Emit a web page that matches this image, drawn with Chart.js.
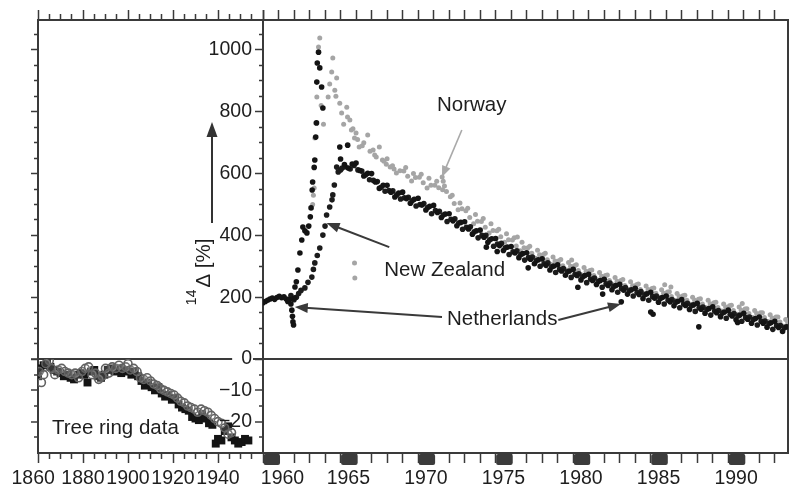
<!DOCTYPE html>
<html>
<head>
<meta charset="utf-8">
<script src="https://cdn.jsdelivr.net/npm/chart.js@4.4.1/dist/chart.umd.min.js"></script>
<style>
  html, body { margin: 0; padding: 0; background: #fff; }
  #wrap { position: relative; width: 792px; height: 491px; }
  canvas { position: absolute; left: 0; top: 0; }
</style>
</head>
<body>
<div id="wrap">
  <canvas id="left" width="792" height="491"></canvas>
  <canvas id="right" width="792" height="491"></canvas>
</div>
<script>
// ---- tree ring data (left panel, 14C delta in per mil) ----
const treeSqYears = [1860,1861,1862.5,1864,1865.5,1867,1868.5,1870,1871.5,1873,1874.5,1876,1877.5,1879,1880.5,1882,1883.5,1885,1886.5,1888,
  1889.5,1891,1892.5,1894,1895.5,1897,1898.5,1900,1901.5,1903,1904.5,1906,1907.5,1909,1910.5,1912,1913.5,1915,1916.5,1918,
  1919.5,1921,1922.5,1924,1925.5,1927,1928.5,1930,1931.5,1933,1934.5,1936,1937.5,1939,1940,1941.5,1943,1944.5,1946,1947.5,
  1949,1950.5,1952,1953.5];
const treeSqValues = [-5.5,-3,-2,-1,-2.5,-3.5,-4,-4.5,-5.5,-5,-6,-6.5,-5,-4.5,-5,-7.5,-4,-3.5,-5.5,-6,
  -5,-3.5,-3,-4,-3,-4.5,-3.5,-4,-5,-4,-5.5,-7,-8.5,-7.5,-9,-10,-9,-11,-12,-11.5,
  -13,-12.5,-14.5,-15.5,-16,-16.5,-18.5,-19,-19.5,-17.5,-19,-20.5,-21,-27,-25.5,-26,-23,-21.5,-25,-26,
  -27,-26.5,-25.5,-26];
const treeCircYears = [1860.5,1861.5,1862.5,1863.5,1865,1866,1867.5,1869,1870.5,1872,1873.5,1875,1876.5,1878,1879.5,1881,1882.5,1884,1885.5,1887,
  1888.5,1890,1891.5,1893,1894.5,1896,1897.5,1899,1900,1901,1902.5,1904,1905.5,1907,1908.5,1910,1911.5,1913,1914.5,1916,
  1917.5,1919,1920.5,1922,1923.5,1925,1926.5,1928,1929.5,1931,1932.5,1934,1935.5,1937,1938.5,1940,1941.5,1943,1944.5,1946];
const treeCircValues = [-4,-7.5,-5,-1.5,-0.5,-3,-5,-3.5,-3,-4,-4.5,-5,-4.5,-6,-4,-3,-2.5,-5,-4.5,-6.5,
  -5.5,-3,-4.5,-2.5,-3,-2,-3,-2.5,-1.5,-3.5,-3,-4,-6,-6.5,-6,-7,-8,-8.5,-9.5,-10,
  -10.5,-11,-11.5,-12.5,-13.5,-14,-15,-15.5,-16,-17,-16,-16.5,-17,-18,-19,-20,-20.5,-22,-24,-23.5];

// ---- Netherlands (black) ----
const nlEarlyYears = [1960.0,1960.15,1960.3,1960.45,1960.6,1960.75,1960.9,1961.05,1961.2,1961.35,1961.5,1961.6,1961.7,1961.8,1961.86,1961.9,1961.93,1961.97,
  1962.02,1962.06,1962.15,1962.25,1962.38,1962.5,1962.57,1962.7,1962.83,1962.95,1963.05,1963.1,1963.17,1963.2,1963.3,1963.34,1963.4,1963.45,1963.47,1963.5,
  1963.58,1963.66,1963.78,1963.86,1964.95,1965.46];
const nlEarlyValues = [182,186,190,194,197,193,199,203,198,201,194,186,192,178,158,138,120,110,
  197,233,250,288,343,385,427,415,408,430,460,489,547,573,620,644,718,764,896,958,
  993,942,880,812,686,692];
const nlBandYears = [
  1965,1965.25,1965.5,1965.75, 1966,1966.25,1966.5,1966.75, 1967,1967.25,1967.5,1967.75, 1968,1968.25,1968.5,1968.75,
  1969,1969.25,1969.5,1969.75, 1970,1970.25,1970.5,1970.75, 1971,1971.25,1971.5,1971.75, 1972,1972.25,1972.5,1972.75,
  1973,1973.25,1973.5,1973.75, 1974,1974.25,1974.5,1974.75, 1975,1975.25,1975.5,1975.75, 1976,1976.25,1976.5,1976.75,
  1977,1977.25,1977.5,1977.75, 1978,1978.25,1978.5,1978.75, 1979,1979.25,1979.5,1979.75, 1980,1980.25,1980.5,1980.75,
  1981,1981.25,1981.5,1981.75, 1982,1982.25,1982.5,1982.75, 1983,1983.25,1983.5,1983.75, 1984,1984.25,1984.5,1984.75,
  1985,1985.25,1985.5,1985.75, 1986,1986.25,1986.5,1986.75, 1987,1987.25,1987.5,1987.75, 1988,1988.25,1988.5,1988.75,
  1989,1989.25,1989.5,1989.75, 1990,1990.25,1990.5,1990.75, 1991,1991.25,1991.5,1991.75, 1992,1992.25,1992.5,1992.75,
  1993,1993.25,1993.5,1993.75,
  1974.4,1975.1,1977.1,1980.3,1981.9,1983.1,1985.0,1985.15,1988.1,1990.6];
const nlBandValues = [
  647,629,618,631, 634,610,592,601, 600,573,552,562, 562,540,524,537,
  540,519,504,517, 520,498,482,494, 497,474,458,469, 470,447,431,442,
  444,421,404,415, 417,394,378,389, 390,367,351,362, 364,343,328,341,
  344,323,308,321, 324,303,288,301, 305,285,271,285, 290,270,256,270,
  274,254,241,254, 258,238,224,238, 242,223,210,224, 229,209,196,211,
  216,197,184,199, 204,185,172,187, 192,173,160,175, 180,161,148,163,
  169,150,137,152, 158,139,127,142, 148,129,116,131, 136,116,103,117,
  122,102,89,104,
  362,348,295,232,210,185,152,145,104,118];

// ---- New Zealand (black) ----
const nzYears = [1961.8,1962.0,1962.15,1962.3,1962.45,1962.7,1962.9,1963.15,1963.25,1963.34,1963.5,1963.66,1963.86,1964.0,1964.1,1964.3,
  1964.45,1964.5,1964.6,1964.75,1964.85,1965.0,1965.1,1965.3,
  1965.62,1966.12,1966.62,1967.12,1967.62,1968.12,1968.62,1969.12,1969.62,1970.12,1970.62,1971.12,1971.62,1972.12,1972.62,
  1973.12,1973.62,1974.12,1974.62,1975.12,1975.62,1976.12,1976.62,1977.12,1977.62,1978.12,1978.62,1979.12,1979.62,1980.12,1980.62,
  1981.12,1981.62,1982.12,1982.62,1983.12,1983.62,1984.12,1984.62,1985.12,1985.62,1986.12,1986.62,1987.12,1987.62,1988.12,1988.62,
  1989.12,1989.62,1990.12,1990.62,1991.12,1991.62,1992.12,1992.62,1993.12,1993.62];
const nzValues = [205,192,200,212,222,230,248,265,290,311,335,359,401,430,466,492,
  515,531,563,621,605,612,618,622,
  615,612,596,578,556,545,531,522,512,500,490,480,466,452,440,
  426,412,400,386,372,360,347,338,328,318,308,298,290,282,274,266,
  259,251,243,235,228,221,215,208,202,196,190,184,178,172,166,160,
  155,149,144,139,134,128,122,115,108,101];
const nzLateYears = [1965.87,
  1966.37,1966.87,1967.37,1967.87,1968.37,1968.87,1969.37,1969.87,1970.37,1970.87,1971.37,1971.87,1972.37,1972.87,
  1973.37,1973.87,1974.37,1974.87,1975.37,1975.87,1976.37,1976.87,1977.37,1977.87,1978.37,1978.87,1979.37,1979.87,
  1980.37,1980.87,1981.37,1981.87,1982.37,1982.87,1983.37,1983.87,1984.37,1984.87,1985.37,1985.87,1986.37,1986.87,
  1987.37,1987.87,1988.37,1988.87,1989.37,1989.87,1990.37,1990.87,1991.37,1991.87,1992.37,1992.87,1993.37];
const nzLateValues = [626,
  608,580,574,543,544,518,523,495,503,470,478,445,454,420,
  428,392,400,365,374,338,350,320,330,300,311,280,293,264,
  276,247,262,232,246,216,231,204,218,190,204,178,192,166,
  180,154,168,142,157,132,147,122,136,110,123,96,108];

// ---- Norway (grey) ----
const noEarlyYears = [1963.2,1963.25,1963.3,1963.34,1963.4,1963.47,1963.58,1963.66,1963.75,1963.9,1964.2,1964.43,1964.5,1964.63,1964.75,1964.95,
  1965.07,1965.4,1965.45,1965.6,1965.7,1965.9,1966.0,1966.2,1966.5,1966.75,1967.1,1967.3,1967.5,1967.7,1967.95,1968.2,1968.45,1968.6,
  1965.9,1965.92,
  1964.3,1964.7,1965.2,1965.8,1966.1,1966.4,1966.9,1967.2,1967.8,1968.0,1968.35];
const noEarlyValues = [500,530,553,715,764,848,1010,1039,820,760,848,929,974,870,909,828,
  796,815,783,773,741,715,731,686,700,725,676,654,686,644,630,621,615,602,
  311,262,
  890,850,760,745,710,690,672,660,640,648,625];
const noBandYears = [1968.83,
  1969.08,1969.33,1969.58,1969.83, 1970.08,1970.33,1970.58,1970.83, 1971.08,1971.33,1971.58,1971.83, 1972.08,1972.33,1972.58,1972.83,
  1973.08,1973.33,1973.58,1973.83, 1974.08,1974.33,1974.58,1974.83, 1975.08,1975.33,1975.58,1975.83, 1976.08,1976.33,1976.58,1976.83,
  1977.08,1977.33,1977.58,1977.83, 1978.08,1978.33,1978.58,1978.83, 1979.08,1979.33,1979.58,1979.83, 1980.08,1980.33,1980.58,1980.83,
  1981.08,1981.33,1981.58,1981.83, 1982.08,1982.33,1982.58,1982.83, 1983.08,1983.33,1983.58,1983.83, 1984.08,1984.33,1984.58,1984.83,
  1985.08,1985.33,1985.58,1985.83, 1986.08,1986.33,1986.58,1986.83, 1987.08,1987.33,1987.58,1987.83, 1988.08,1988.33,1988.58,1988.83,
  1989.08,1989.33,1989.58,1989.83, 1990.08,1990.33,1990.58,1990.83, 1991.08,1991.33,1991.58,1991.83, 1992.08,1992.33,1992.58,1992.83,
  1993.08,1993.33,1993.58,1993.83,
  1971.55,1971.62,1976.4,1979.9,1985.9,1986.3,1990.9];
const noBandValues = [609,
  608,591,576,587, 588,570,553,562, 562,554,548,542, 525,503,483,486,
  480,458,438,446, 445,426,408,416, 415,396,378,386, 385,366,350,360,
  360,342,326,337, 338,321,306,317, 318,302,288,300, 302,286,272,284,
  286,270,256,268, 270,254,240,252, 254,238,225,237, 240,225,212,225,
  228,213,200,213, 217,202,189,202, 205,190,177,190, 193,178,166,179,
  182,167,155,168, 172,157,145,158, 162,147,134,147, 150,134,121,133,
  136,120,106,118,
  589,575,395,320,240,233,180];
const noHighYears = [
  1969.2,1969.7,1970.2,1970.7,1971.2,1971.7,1972.2,1972.7,1973.2,1973.7,1974.2,1974.7,1975.2,1975.7,1976.2,1976.7,
  1977.2,1977.7,1978.2,1978.7,1979.2,1979.7,1980.2,1980.7,1981.2,1981.7,1982.2,1982.7,1983.2,1983.7,1984.2,1984.7,
  1985.2,1985.7,1986.2,1986.7,1987.2,1987.7,1988.2,1988.7,1989.2,1989.7,1990.2,1990.7,1991.2,1991.7,1992.2,1992.7,
  1993.2,1993.7];
const noHighValues = [
  620,600,598,585,575,560,530,505,488,468,455,438,420,405,392,378,
  365,352,342,330,322,312,305,296,288,280,272,264,257,250,243,236,
  230,224,218,212,206,200,195,190,184,178,174,168,163,157,150,143,
  136,128];

// ---- axis ticks and labels ----
const leftYearLabels = [1860, 1880, 1900, 1920, 1940];
const rightYearLabels = [1960, 1965, 1970, 1975, 1980, 1985, 1990];
const upperLabels = [200, 400, 600, 800, 1000];
const lowerLabels = [0, -10, -20];

const FONT = "'Liberation Sans', Arial, Helvetica, sans-serif";
const AXIS = '#3a3a3a';
const INK = '#1e1e1e';
Chart.defaults.font.family = FONT;

function steps(a, b, d) {
  const out = [];
  for (let v = a; v <= b + 1e-6; v += d) out.push(+v.toFixed(3));
  return out;
}
const pts = (xs, ys) => xs.map((x, i) => ({ x: x, y: ys[i] }));
const setTicks = list => s => { s.ticks = list.map(v => ({ value: v })); };
const fixW = w => s => { s.width = w; };
const fixH = h => s => { s.height = h; };
const isVal = (c, f) => c.tick && f(c.tick.value);

const upTicks = steps(0, 1050, 50);
const lowTicks = steps(-25, 0, 5);
const tickFont = { family: FONT, size: 19.5 };

function arrow(ctx, x1, y1, x2, y2, color, width, head, half) {
  const a = Math.atan2(y2 - y1, x2 - x1);
  const c = Math.cos(a), s = Math.sin(a);
  ctx.save();
  ctx.strokeStyle = color;
  ctx.fillStyle = color;
  ctx.lineWidth = width;
  ctx.beginPath();
  ctx.moveTo(x1, y1);
  ctx.lineTo(x2 - c * head * 0.8, y2 - s * head * 0.8);
  ctx.stroke();
  ctx.beginPath();
  ctx.moveTo(x2, y2);
  ctx.lineTo(x2 - c * head - s * half, y2 - s * head + c * half);
  ctx.lineTo(x2 - c * head + s * half, y2 - s * head - c * half);
  ctx.closePath();
  ctx.fill();
  ctx.restore();
}

// ---------------- left panel: tree rings ----------------
const treeLabel = {
  id: 'treeLabel',
  afterDraw(chart) {
    const ctx = chart.ctx;
    ctx.save();
    ctx.font = '20.5px ' + FONT;
    ctx.fillStyle = INK;
    ctx.textBaseline = 'middle';
    ctx.fillText('Tree ring data', chart.scales.x.getPixelForValue(1866.2), chart.scales.yLow.getPixelForValue(-22));
    ctx.restore();
  }
};

new Chart(document.getElementById('left'), {
  type: 'scatter',
  data: {
    datasets: [
      { data: pts(treeCircYears, treeCircValues), yAxisID: 'yLow', pointStyle: 'circle', pointRadius: 4,
        backgroundColor: 'rgba(255,255,255,0.15)', borderColor: '#626262', borderWidth: 1.6 },
      { data: pts(treeSqYears, treeSqValues), yAxisID: 'yLow', pointStyle: 'rect', pointRadius: 5.6,
        backgroundColor: '#141414', borderWidth: 0 }
    ]
  },
  options: {
    responsive: false, animation: false, events: [],
    layout: { padding: { left: 31, right: 529, top: 10, bottom: 0 } },
    plugins: { legend: { display: false }, tooltip: { enabled: false } },
    scales: {
      x: {
        type: 'linear', position: 'bottom', min: 1860, max: 1960,
        afterBuildTicks: setTicks(steps(1860, 1955, 5)), afterFit: fixH(38),
        ticks: { autoSkip: false, maxRotation: 0, padding: 4, color: INK, font: tickFont,
          callback: v => leftYearLabels.includes(v) ? (v === 1860 ? '1860\u2002' : String(v)) : '' },
        grid: { drawOnChartArea: false, tickLength: 10, tickColor: AXIS, tickWidth: 1.5,
          tickBorderDash: c => isVal(c, v => (v - 1860) % 20 === 0) ? [] : [5, 40] },
        border: { color: AXIS, width: 2 }
      },
      xTop: {
        type: 'linear', position: 'top', min: 1860, max: 1960,
        afterBuildTicks: setTicks(steps(1860, 1960, 5)), afterFit: fixH(10),
        ticks: { display: false },
        grid: { drawOnChartArea: false, tickLength: 10, tickColor: AXIS, tickWidth: 1.5,
          tickBorderDash: c => isVal(c, v => (v - 1860) % 20 === 0) ? [] : [0, 4, 5, 40] },
        border: { color: AXIS, width: 2 }
      },
      yLow: {
        type: 'linear', position: 'left', stack: 'y', stackWeight: 94, min: -30, max: 0,
        afterBuildTicks: setTicks(lowTicks), afterFit: fixW(7),
        ticks: { display: false },
        grid: { drawOnChartArea: true, tickLength: 7, tickColor: AXIS, tickWidth: 1.5,
          color: c => isVal(c, v => v === 0) ? AXIS : 'rgba(0,0,0,0)',
          lineWidth: c => isVal(c, v => v === 0) ? 2 : 0,
          tickBorderDash: c => isVal(c, v => v % 10 === 0) ? [] : [0, 3, 3, 40] },
        border: { color: AXIS, width: 2 }
      },
      yUp: {
        type: 'linear', position: 'left', stack: 'y', stackWeight: 339, min: 0, max: 1097,
        afterBuildTicks: setTicks(upTicks), afterFit: fixW(7),
        ticks: { display: false },
        grid: { drawOnChartArea: false, tickLength: 7, tickColor: AXIS, tickWidth: 1.5,
          tickBorderDash: c => isVal(c, v => v % 200 === 0) ? [] : [0, 3, 3, 40] },
        border: { color: AXIS, width: 2 }
      }
    }
  },
  plugins: [treeLabel]
});

// ---------------- right panel: atmospheric 14C ----------------
const decorations = {
  id: 'decorations',
  afterDraw(chart) {
    const ctx = chart.ctx;
    const xs = chart.scales.x, ys = chart.scales.yUp;
    const X = v => xs.getPixelForValue(v), Y = v => ys.getPixelForValue(v);
    const area = chart.chartArea;

    // year blocks under the axis
    ctx.save();
    ctx.fillStyle = '#3b3b3b';
    rightYearLabels.forEach(yr => {
      const x0 = X(yr), x1 = X(yr + 1);
      ctx.beginPath();
      ctx.roundRect(x0 + 0.5, area.bottom + 1, x1 - x0 + 1, 11, 2);
      ctx.fill();
    });
    ctx.restore();

    // axis title with upward arrow
    const tx = area.left - 60, ty = Y(282);
    ctx.save();
    ctx.translate(tx, ty);
    ctx.rotate(-Math.PI / 2);
    ctx.fillStyle = INK;
    ctx.textBaseline = 'alphabetic';
    ctx.font = '14px ' + FONT;
    const supW = ctx.measureText('14').width;
    ctx.font = '20.5px ' + FONT;
    const main = '\u0394 [%]';
    const mainW = ctx.measureText(main).width;
    const start = -(supW + 2 + mainW) / 2;
    ctx.font = '14px ' + FONT;
    ctx.fillText('14', start, -7);
    ctx.font = '20.5px ' + FONT;
    ctx.fillText(main, start + supW + 2, 7);
    ctx.restore();
    arrow(ctx, area.left - 51, Y(440), area.left - 51, Y(767), '#333', 2, 15, 5.5);

    // series labels and pointers
    ctx.save();
    ctx.font = '20.5px ' + FONT;
    ctx.textBaseline = 'middle';
    ctx.fillStyle = INK;
    ctx.fillText('Norway', X(1971.22), Y(822));
    ctx.fillText('New Zealand', X(1967.82), Y(288));
    ctx.fillText('Netherlands', X(1971.86), Y(129));
    ctx.restore();
    arrow(ctx, X(1972.82), Y(741), X(1971.54), Y(589), '#a9a9a9', 1.6, 11, 4.5);
    arrow(ctx, X(1968.14), Y(362), X(1964.1), Y(440), '#3a3a3a', 2, 13, 5);
    arrow(ctx, X(1971.54), Y(136), X(1962.05), Y(168), '#3a3a3a', 2, 13, 5);
    arrow(ctx, X(1979.04), Y(126), X(1983.08), Y(178), '#3a3a3a', 2, 13, 5);
  }
};

new Chart(document.getElementById('right'), {
  type: 'scatter',
  data: {
    datasets: [
      { label: 'Netherlands', data: pts(nlEarlyYears, nlEarlyValues).concat(pts(nlBandYears, nlBandValues)),
        yAxisID: 'yUp', pointRadius: 2.8, backgroundColor: '#141414', borderWidth: 0 },
      { label: 'New Zealand', data: pts(nzYears, nzValues).concat(pts(nzLateYears, nzLateValues)),
        yAxisID: 'yUp', pointRadius: 2.8, backgroundColor: '#1c1c1c', borderWidth: 0 },
      { label: 'Norway', data: pts(noEarlyYears, noEarlyValues).concat(pts(noBandYears, noBandValues), pts(noHighYears, noHighValues)),
        yAxisID: 'yUp', pointRadius: 2.5, backgroundColor: '#a5a5a5', borderWidth: 0 }
    ]
  },
  options: {
    responsive: false, animation: false, events: [],
    layout: { padding: { left: 203, right: 1, top: 10, bottom: 0 } },
    plugins: { legend: { display: false }, tooltip: { enabled: false } },
    scales: {
      x: {
        type: 'linear', position: 'bottom', min: 1960, max: 1993.85,
        afterBuildTicks: setTicks(steps(1960, 1993, 1)), afterFit: fixH(38),
        ticks: { autoSkip: false, maxRotation: 0, padding: 4, labelOffset: 7.8, color: INK, font: tickFont,
          callback: v => rightYearLabels.includes(v) ? (v === 1960 ? '\u2003\u20091960' : String(v)) : '' },
        grid: { drawOnChartArea: false, tickLength: 10, tickColor: AXIS, tickWidth: 1.5 },
        border: { color: AXIS, width: 2 }
      },
      xTop: {
        type: 'linear', position: 'top', min: 1960, max: 1993.85,
        afterBuildTicks: setTicks(steps(1960, 1993, 1)), afterFit: fixH(10),
        ticks: { display: false },
        grid: { drawOnChartArea: false, tickLength: 10, tickColor: AXIS, tickWidth: 1.5 },
        border: { color: AXIS, width: 2 }
      },
      yLow: {
        type: 'linear', position: 'left', stack: 'y', stackWeight: 94, min: -30, max: 0,
        afterBuildTicks: setTicks(lowTicks), afterFit: fixW(60),
        ticks: { autoSkip: false, padding: 3, color: INK, font: tickFont,
          callback: v => lowerLabels.includes(v) ? (v === 0 ? '0' : '\u2212' + Math.abs(v)) : '',
          showLabelBackdrop: c => isVal(c, v => v === 0), backdropColor: '#ffffff',
          backdropPadding: { top: 0, bottom: 0, left: 9, right: 1 } },
        grid: { drawOnChartArea: true, tickLength: 8, tickColor: AXIS, tickWidth: 1.5,
          color: c => isVal(c, v => v === 0) ? AXIS : 'rgba(0,0,0,0)',
          lineWidth: c => isVal(c, v => v === 0) ? 2 : 0,
          tickBorderDash: c => isVal(c, v => v % 10 === 0) ? [] : [0, 4, 3, 40] },
        border: { color: AXIS, width: 2 }
      },
      yUp: {
        type: 'linear', position: 'left', stack: 'y', stackWeight: 339, min: 0, max: 1097,
        afterBuildTicks: setTicks(upTicks), afterFit: fixW(60),
        ticks: { autoSkip: false, padding: 3, color: INK, font: tickFont,
          callback: v => upperLabels.includes(v) ? String(v) : '' },
        grid: { drawOnChartArea: false, tickLength: 8, tickColor: AXIS, tickWidth: 1.5,
          tickBorderDash: c => isVal(c, v => v % 200 === 0) ? [] : [0, 4, 3, 40] },
        border: { color: AXIS, width: 2 }
      },
      yR: {
        type: 'linear', position: 'right', min: 0, max: 1, afterFit: fixW(0),
        ticks: { display: false }, grid: { display: false },
        border: { color: AXIS, width: 2 }
      }
    }
  },
  plugins: [decorations]
});
</script>
</body>
</html>
